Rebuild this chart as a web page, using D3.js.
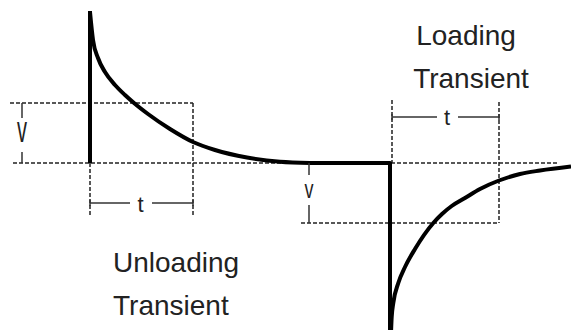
<!DOCTYPE html>
<meta charset="utf-8">
<style>
body { margin: 0; background: #fff; }
svg { display: block; }
.label { font-family: "Liberation Sans", Arial, sans-serif; fill: #222; }
.guide { fill: none; stroke: #222; stroke-width: 1.5; stroke-dasharray: 4,2; }
.bracket { fill: none; stroke: #333; stroke-width: 1.5; }
.wave { fill: none; stroke: #000; stroke-width: 4; stroke-linejoin: round; }
</style>
<svg width="571" height="330"></svg>
<script src="https://d3js.org/d3.v7.min.js"></script>
<script>

// time (arbitrary units) and output deviation (arbitrary units)
var unloadStep = 0, loadStep = 30;
var vDev = 6;           // deviation band shown as "v"
var tSettle = 10.3;     // recovery time shown as "t"

var unloadT = [0, 0.3, 0.8, 1.5, 2.5, 3.5, 4.4, 5.8, 8.0, 10.3, 12.5, 15.7, 19, 22];
var unloadV = [15.1, 12.3, 10.5, 9.1, 7.8, 6.8, 6.0, 4.9, 3.4, 2.1, 1.3, 0.55, 0.12, 0];
var loadT = [30.1, 30.17, 30.33, 30.83, 31.5, 32.5, 34.33, 35.2, 36.17, 37.5, 39, 40.9, 43, 45, 48.1];
var loadV = [-17, -15.4, -14.0, -12.0, -10.4, -8.6, -6.0, -5.1, -4.3, -3.5, -2.6, -1.75, -1.1, -0.75, -0.35];

var unloadCurve = unloadT.map(function(t, i) { return [t, unloadV[i]]; });
var loadCurve = loadT.map(function(t, i) { return [t, loadV[i]]; });

var svg = d3.select("svg"),
    width = +svg.attr("width"),
    height = +svg.attr("height");

var x = d3.scaleLinear().domain([-9, 48.1]).range([0, width]);
var y = d3.scaleLinear().domain([-16.7, 16.3]).range([height, 0]);

var line = d3.line()
    .x(function(d) { return x(d[0]); })
    .y(function(d) { return y(d[1]); });
var smooth = d3.line()
    .x(function(d) { return x(d[0]); })
    .y(function(d) { return y(d[1]); })
    .curve(d3.curveMonotoneX);

function seg(pts) {
  svg.append("path").attr("class", "bracket").attr("d", line(pts));
}

// dashed guides
var guides = [
  [[-8, vDev], [unloadStep + tSettle, vDev]],
  [[-7.7, 0], [46.7, 0]],
  [[unloadStep + tSettle, vDev], [unloadStep + tSettle, -5.4]],
  [[unloadStep, 0], [unloadStep, -5.4]],
  [[21.1, -vDev], [loadStep + tSettle + 0.6, -vDev]],
  [[loadStep + tSettle + 0.6, vDev + 0.1], [loadStep + tSettle + 0.6, -vDev]],
  [[loadStep + 0.2, vDev + 0.3], [loadStep + 0.2, 0]]
];
svg.selectAll(".guide")
  .data(guides)
  .enter().append("path")
    .attr("class", "guide")
    .attr("d", line);

// waveform
svg.append("path")
    .attr("class", "wave")
    .attr("d", line([[unloadStep, 0], [unloadStep, 15.2]]));
svg.append("path")
    .attr("class", "wave")
    .attr("d", smooth(unloadCurve));
svg.append("path")
    .attr("class", "wave")
    .attr("d", line([[22, 0], [loadStep, 0], [loadStep, -17]]));
svg.append("path")
    .attr("class", "wave")
    .attr("d", smooth(loadCurve));

// v brackets
seg([[-6.8, vDev], [-6.8, 4.5]]);
seg([[-6.8, 1.1], [-6.8, 0]]);
svg.append("text").attr("class", "label")
    .attr("transform", "translate(" + x(-6.8) + "," + y(2.1) + ") scale(1,1.8)")
    .attr("text-anchor", "middle")
    .attr("font-size", 20)
    .text("v");
seg([[21.9, 0], [21.9, -1.2]]);
seg([[21.9, -4.2], [21.9, -vDev]]);
svg.append("text").attr("class", "label")
    .attr("transform", "translate(" + x(21.9) + "," + y(-3.5) + ") scale(1,1.4)")
    .attr("text-anchor", "middle")
    .attr("font-size", 18)
    .text("v");

// t brackets
seg([[unloadStep, -4.0], [4.0, -4.0]]);
seg([[6.2, -4.0], [unloadStep + tSettle, -4.0]]);
seg([[unloadStep, -3.7], [unloadStep, -4.3]]);
seg([[unloadStep + tSettle, -3.7], [unloadStep + tSettle, -4.3]]);
svg.append("text").attr("class", "label")
    .attr("x", x(5.05)).attr("y", y(-4.9))
    .attr("text-anchor", "middle")
    .attr("font-size", 22)
    .text("t");
seg([[loadStep + 0.2, 4.6], [34.7, 4.6]]);
seg([[36.8, 4.6], [loadStep + tSettle + 0.6, 4.6]]);
seg([[loadStep + 0.2, 4.9], [loadStep + 0.2, 4.3]]);
seg([[loadStep + tSettle + 0.6, 4.9], [loadStep + tSettle + 0.6, 4.3]]);
svg.append("text").attr("class", "label")
    .attr("x", x(35.7)).attr("y", y(3.8))
    .attr("text-anchor", "middle")
    .attr("font-size", 22)
    .text("t");

// captions
var captions = [
  ["Loading", 37.6, 11.8, "middle"],
  ["Transient", 38.1, 7.5, "middle"],
  ["Unloading", 2.3, -10.9, "start"],
  ["Transient", 2.3, -15.2, "start"]
];
svg.selectAll(".caption")
  .data(captions)
  .enter().append("text")
    .attr("class", "label caption")
    .attr("x", function(d) { return x(d[1]); })
    .attr("y", function(d) { return y(d[2]); })
    .attr("text-anchor", function(d) { return d[3]; })
    .attr("font-size", 28)
    .text(function(d) { return d[0]; });
</script>
